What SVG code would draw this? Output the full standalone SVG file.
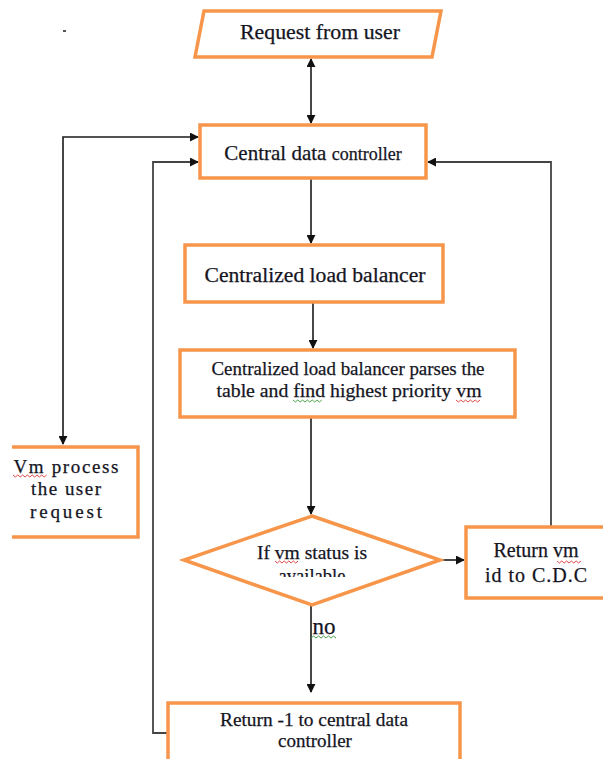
<svg xmlns="http://www.w3.org/2000/svg" width="603" height="759" viewBox="0 0 603 759">
<style>
.box{fill:#fff;stroke:#F7964A;stroke-width:3.5}
.t{font-family:'Liberation Serif','DejaVu Serif',serif;fill:#15151f;text-anchor:middle;stroke:#15151f;stroke-width:0.25}
.c{fill:none;stroke:#1a1a1a;stroke-width:1.6}
.g{fill:none;stroke:#444;stroke-width:1.8}
.sq{fill:none;stroke-width:0.9}
</style>
<defs>
<marker id="ah" viewBox="0 0 10 10" refX="9" refY="5" markerWidth="9" markerHeight="9" markerUnits="userSpaceOnUse" orient="auto-start-reverse">
<path d="M0,0 L10,5 L0,10 Z" fill="#111"/>
</marker>
<clipPath id="dclip"><rect x="180" y="500" width="270" height="77"/></clipPath>
</defs>
<rect width="603" height="759" fill="#fff"/>
<rect x="63" y="30" width="3" height="2" fill="#555"/>

<g id="connectors">
<line class="c" x1="311" y1="59" x2="311" y2="123" marker-start="url(#ah)" marker-end="url(#ah)"/>
<polyline class="c" points="63,444 63,137 198,137" marker-start="url(#ah)" marker-end="url(#ah)"/>
<polyline class="g" points="168,733 153,733 153,162 198,162" marker-end="url(#ah)"/>
<polyline class="g" points="551,526 551,162 428,162" marker-end="url(#ah)"/>
<line class="c" x1="311" y1="179" x2="311" y2="243" marker-end="url(#ah)"/>
<line class="c" x1="313" y1="303" x2="313" y2="348" marker-end="url(#ah)"/>
<line class="c" x1="311" y1="418" x2="311" y2="514" marker-end="url(#ah)"/>
<line class="c" x1="440" y1="560" x2="464" y2="560" marker-end="url(#ah)"/>
<line class="c" x1="311" y1="605" x2="311" y2="692" marker-end="url(#ah)"/>
<text class="t" x="324" y="634" font-size="23">no</text>
<path class="sq" stroke="#3a9a3a" d="M311,638 l2.5,-2 l2.5,2 l2.5,-2 l2.5,2 l2.5,-2 l2.5,2 l2.5,-2 l2.5,2 l2.5,-2 l2.5,2"/>
</g>

<g id="request">
<polygon class="box" points="204,11 441,11 432,57 195,57"/>
<text class="t" x="320" y="39" font-size="20" textLength="160" lengthAdjust="spacingAndGlyphs">Request from user</text>
</g>

<g id="cdc">
<rect class="box" x="200" y="125" width="226" height="53"/>
<text class="t" x="313" y="160"><tspan font-size="21">Central data </tspan><tspan font-size="18">controller</tspan></text>
</g>

<g id="clb">
<rect class="box" x="185" y="245" width="258" height="57"/>
<text class="t" x="315" y="282" font-size="20" textLength="221" lengthAdjust="spacingAndGlyphs">Centralized load balancer</text>
</g>

<g id="parse">
<rect class="box" x="180" y="350" width="335" height="67"/>
<text class="t" x="348" y="375" font-size="19" textLength="273" lengthAdjust="spacingAndGlyphs">Centralized load balancer parses the</text>
<text class="t" x="349" y="397" font-size="19" textLength="265" lengthAdjust="spacingAndGlyphs">table and find highest priority vm</text>
<path class="sq" stroke="#3a9a3a" d="M293,400 l2.4,2 l2.4,-2 l2.4,2 l2.4,-2 l2.4,2 l2.4,-2 l2.4,2 l2.4,-2 l2.4,2 l2.4,-2 l2.4,2 l2.4,-2"/>
<path class="sq" stroke="#d33" d="M456,400 l2.4,2 l2.4,-2 l2.4,2 l2.4,-2 l2.4,2 l2.4,-2 l2.4,2 l2.4,-2 l2.4,2 l2.4,-2"/>
</g>

<g id="vmprocess">
<path class="box" d="M12,447 L138,447 L138,537 L12,537"/>
<text class="t" x="66" y="473" font-size="19" textLength="105" lengthAdjust="spacing">Vm process</text>
<text class="t" x="66" y="495" font-size="19" textLength="70" lengthAdjust="spacing">the user</text>
<text class="t" x="66" y="518" font-size="19" textLength="72" lengthAdjust="spacing">request</text>
<path class="sq" stroke="#d33" d="M13,475 l2.4,2 l2.4,-2 l2.4,2 l2.4,-2 l2.4,2 l2.4,-2 l2.4,2 l2.4,-2 l2.4,2 l2.4,-2 l2.4,2 l2.4,-2 l2.4,2 l2.4,-2"/>
</g>

<g id="decision">
<polygon class="box" points="312,516 440,560 312,605 184,560"/>
<text class="t" x="312" y="559" font-size="18.5" textLength="110" lengthAdjust="spacingAndGlyphs">If vm status is</text>
<text class="t" x="312" y="582" font-size="18.5" clip-path="url(#dclip)">available</text>
<path class="sq" stroke="#d33" d="M275,561 l2.3,2 l2.3,-2 l2.3,2 l2.3,-2 l2.3,2 l2.3,-2 l2.3,2 l2.3,-2 l2.3,2 l2.3,-2"/>
</g>

<g id="returnvm">
<rect class="box" x="466" y="527" width="150" height="71"/>
<text class="t" x="536" y="557" font-size="20">Return vm</text>
<text class="t" x="536" y="582" font-size="20" textLength="102" lengthAdjust="spacing">id to C.D.C</text>
<path class="sq" stroke="#d33" d="M557,561 l2.4,2 l2.4,-2 l2.4,2 l2.4,-2 l2.4,2 l2.4,-2 l2.4,2 l2.4,-2 l2.4,2 l2.4,-2"/>
</g>

<g id="returnminus1">
<rect class="box" x="168" y="703" width="292" height="70"/>
<text class="t" x="314" y="726" font-size="19" textLength="188" lengthAdjust="spacingAndGlyphs">Return -1 to central data</text>
<text class="t" x="315" y="747" font-size="19">controller</text>
</g>
</svg>
